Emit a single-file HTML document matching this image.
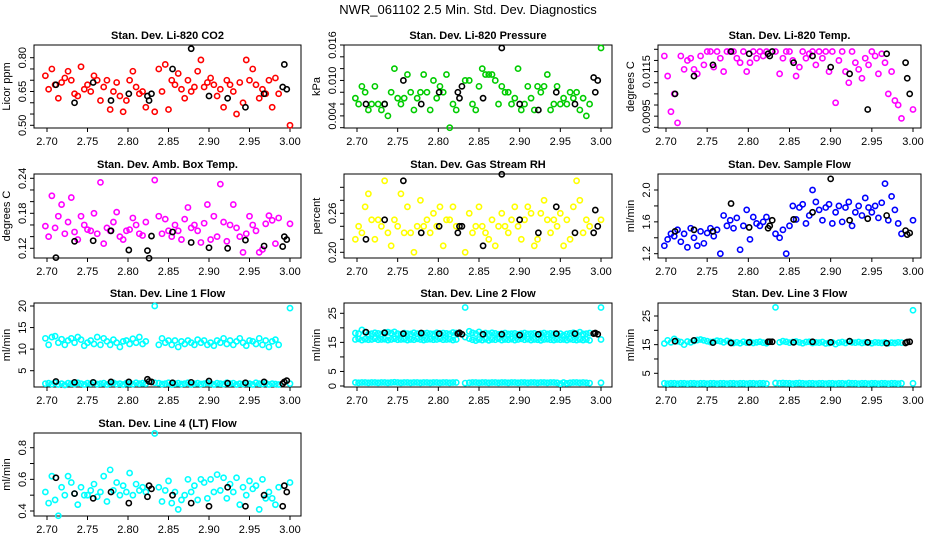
<!DOCTYPE html>
<html><head><meta charset="utf-8"><style>
body{margin:0;background:#fff}
svg{display:block;font-family:"Liberation Sans",sans-serif}
</style></head><body>
<svg id="chart" width="936" height="540" viewBox="0 0 936 540">
<text x="468" y="14" text-anchor="middle" font-size="13">NWR_061102  2.5 Min. Std. Dev. Diagnostics</text>
</svg>
<script>
const times=[2.698,2.702,2.706,2.710,2.714,2.718,2.722,2.726,2.730,2.734,2.738,2.742,2.746,2.750,2.754,2.758,2.762,2.766,2.770,2.774,2.778,2.782,2.786,2.790,2.794,2.798,2.802,2.806,2.810,2.814,2.818,2.822,2.833,2.838,2.842,2.846,2.850,2.854,2.858,2.862,2.866,2.870,2.874,2.878,2.882,2.886,2.890,2.894,2.898,2.902,2.906,2.910,2.914,2.918,2.922,2.926,2.930,2.934,2.938,2.942,2.946,2.950,2.954,2.958,2.962,2.966,2.970,2.974,2.978,2.982,2.986,3.000];
const blackTimes=[2.711,2.734,2.757,2.779,2.801,2.824,2.826,2.829,2.855,2.878,2.900,2.923,2.945,2.968,2.991,2.993,2.996];
const xTicks=[2.70,2.75,2.80,2.85,2.90,2.95,3.00];
const xTickLabels=["2.70","2.75","2.80","2.85","2.90","2.95","3.00"];

const co2Vals=[0.72,0.66,0.75,0.68,0.62,0.69,0.71,0.74,0.70,0.64,0.63,0.76,0.66,0.68,0.65,0.72,0.70,0.61,0.67,0.70,0.57,0.65,0.69,0.63,0.56,0.61,0.70,0.74,0.67,0.64,0.65,0.58,0.56,0.75,0.65,0.77,0.57,0.70,0.68,0.73,0.66,0.62,0.70,0.65,0.67,0.74,0.79,0.67,0.69,0.71,0.68,0.63,0.66,0.58,0.70,0.68,0.65,0.55,0.69,0.60,0.79,0.70,0.75,0.68,0.62,0.66,0.64,0.70,0.58,0.71,0.64,0.50];
const co2Black=[0.68,0.60,0.69,0.61,0.64,0.63,0.61,0.64,0.75,0.84,0.63,0.62,0.58,0.64,0.67,0.77,0.66];
const presVals=[0.007,0.006,0.009,0.008,0.005,0.006,0.009,0.006,0.005,0.006,0.004,0.008,0.012,0.007,0.006,0.007,0.011,0.008,0.005,0.007,0.008,0.011,0.008,0.005,0.010,0.007,0.009,0.008,0.011,0.002,0.006,0.005,0.010,0.010,0.006,0.005,0.009,0.012,0.011,0.011,0.011,0.010,0.006,0.009,0.008,0.008,0.006,0.007,0.012,0.005,0.006,0.009,0.007,0.005,0.009,0.008,0.009,0.011,0.005,0.006,0.009,0.006,0.007,0.006,0.008,0.007,0.008,0.005,0.007,0.004,0.006,0.0155];
const presBlack=[0.006,0.006,0.010,0.006,0.008,0.008,0.007,0.009,0.007,0.0155,0.006,0.005,0.008,0.006,0.0105,0.008,0.010];
const tempVals=[0.0122,0.0113,0.0097,0.0105,0.0092,0.0122,0.0116,0.0120,0.0121,0.0116,0.0114,0.0122,0.0118,0.0124,0.0124,0.0117,0.0124,0.0121,0.0115,0.0124,0.0124,0.0124,0.0121,0.0119,0.0124,0.0115,0.0119,0.0124,0.0121,0.0124,0.0122,0.0124,0.0124,0.0114,0.0121,0.0124,0.0124,0.0120,0.0113,0.0117,0.0124,0.0121,0.0123,0.0124,0.0118,0.0124,0.0121,0.0124,0.0115,0.0124,0.0101,0.0120,0.0124,0.0115,0.0110,0.0124,0.0119,0.0116,0.0112,0.0121,0.0118,0.0124,0.0122,0.0114,0.0123,0.0119,0.0105,0.0115,0.0102,0.0100,0.0094,0.0098];
const tempBlack=[0.0105,0.0113,0.0118,0.0124,0.0123,0.0123,0.0122,0.0124,0.0119,0.0122,0.0117,0.0114,0.0098,0.0123,0.0119,0.0112,0.0105];
const ambVals=[0.158,0.140,0.210,0.155,0.175,0.195,0.145,0.165,0.207,0.148,0.135,0.175,0.160,0.152,0.150,0.180,0.145,0.233,0.128,0.155,0.150,0.165,0.182,0.140,0.135,0.150,0.152,0.172,0.160,0.145,0.142,0.165,0.237,0.175,0.145,0.170,0.150,0.140,0.160,0.150,0.135,0.170,0.190,0.155,0.160,0.150,0.130,0.163,0.195,0.135,0.175,0.140,0.230,0.165,0.132,0.160,0.195,0.155,0.140,0.113,0.145,0.175,0.160,0.150,0.113,0.118,0.162,0.176,0.168,0.128,0.172,0.162];
const ambBlack=[0.104,0.132,0.133,0.150,0.117,0.116,0.103,0.141,0.148,0.130,0.121,0.120,0.134,0.124,0.123,0.140,0.135];
const rhVals=[0.22,0.24,0.23,0.27,0.29,0.25,0.22,0.25,0.24,0.31,0.23,0.21,0.25,0.24,0.29,0.23,0.27,0.23,0.20,0.24,0.28,0.24,0.25,0.23,0.26,0.24,0.27,0.21,0.25,0.25,0.27,0.24,0.20,0.26,0.23,0.24,0.27,0.24,0.23,0.22,0.25,0.21,0.24,0.26,0.24,0.23,0.25,0.27,0.24,0.22,0.25,0.27,0.26,0.21,0.22,0.26,0.28,0.25,0.23,0.25,0.24,0.26,0.21,0.25,0.22,0.27,0.31,0.28,0.23,0.25,0.24,0.25];
const rhBlack=[0.22,0.25,0.31,0.23,0.24,0.23,0.24,0.24,0.21,0.32,0.25,0.23,0.27,0.23,0.23,0.265,0.24];
const sflowVals=[1.30,1.38,1.45,1.42,1.50,1.35,1.45,1.28,1.52,1.40,1.30,1.48,1.33,1.46,1.52,1.42,1.50,1.20,1.68,1.55,1.62,1.52,1.65,1.25,1.55,1.75,1.38,1.66,1.58,1.55,1.60,1.66,1.45,1.40,1.50,1.20,1.55,1.80,1.63,1.78,1.82,1.58,1.68,2.00,1.85,1.75,1.62,1.78,1.82,1.58,1.72,1.80,1.60,1.78,1.85,1.55,1.72,1.80,1.68,1.90,1.78,1.72,1.80,1.65,1.84,2.08,1.62,1.92,1.75,1.58,1.45,1.62];
const sflowBlack=[1.48,1.50,1.48,1.83,1.53,1.52,1.55,1.62,1.63,1.72,2.14,1.62,1.64,1.68,1.49,1.44,1.46];
const line1High=[12.5,11.0,12.8,13.0,11.5,12.3,11.0,12.0,12.5,11.5,12.8,12.2,10.8,11.5,12.0,11.2,12.8,11.0,12.5,11.8,11.0,12.2,11.5,10.5,11.8,12.0,11.2,12.4,11.5,12.8,11.2,11.8,20.0,11.0,12.5,11.5,12.0,11.0,12.0,10.5,11.8,11.2,12.0,11.5,11.0,12.2,11.5,12.0,11.0,11.5,10.8,12.0,11.5,12.5,11.2,12.0,11.0,11.8,12.5,11.5,10.8,12.0,11.8,11.2,12.5,11.0,12.0,10.5,11.8,12.2,11.0,19.5];
const line1Low=[2.0,2.1,1.9,2.2,1.8,2.0,1.7,2.1,2.0,1.9,2.2,2.0,1.8,2.1,2.0,2.2,1.9,2.0,2.1,1.8,2.0,2.2,1.9,2.0,1.8,2.1,2.0,1.9,2.2,2.0,2.1,2.0,2.2,2.1,1.9,2.0,2.2,1.8,2.0,2.1,1.9,2.0,2.2,1.8,2.0,2.1,1.9,2.0,2.2,2.0,1.8,2.1,2.0,1.9,2.2,2.0,2.1,1.8,2.0,1.9,2.1,2.0,1.8,2.2,2.0,1.9,2.1,1.8,2.0,1.9,1.8,2.0];
const line1Black=[2.5,2.3,2.3,2.4,2.4,3.0,2.5,2.4,2.2,2.3,2.6,2.1,2.2,2.4,2.0,2.4,2.7];
const line2High=[18.2,18.0,19.3,18.5,17.8,18.0,18.3,18.1,17.9,18.4,18.5,18.2,18.6,18.0,17.8,18.2,18.0,17.9,18.3,18.0,17.8,18.1,18.2,18.0,17.9,18.3,18.0,18.2,18.1,17.9,18.4,18.2,27.0,18.8,18.3,18.0,18.6,17.9,18.2,18.0,18.3,18.1,17.8,18.0,18.2,17.9,18.0,18.1,17.8,18.0,18.2,17.9,18.0,18.1,17.8,18.0,18.2,17.9,18.1,18.0,17.8,18.0,17.5,17.9,18.1,18.3,18.0,18.5,17.9,18.0,18.2,27.0];
const line2Mid=[16.0,16.2,15.8,16.1,15.9,16.0,16.3,15.9,16.0,16.1,15.8,16.0,16.2,15.9,16.0,16.1,15.8,16.0,15.9,16.2,16.0,15.8,16.0,16.1,15.9,16.0,16.2,15.9,16.0,16.1,15.8,16.0,16.8,16.3,15.9,15.6,16.0,15.8,16.1,15.7,16.0,15.9,16.2,15.8,16.0,15.9,16.1,15.8,16.0,16.2,15.9,16.1,15.8,16.0,15.9,15.7,16.0,16.1,15.9,15.8,16.0,15.9,16.0,15.8,16.1,15.9,15.8,16.0,15.8,16.0,15.7,16.0];
const line2Low=[1.2,1.1,1.2,1.2,1.1,1.2,1.2,1.1,1.2,1.2,1.1,1.2,1.3,1.2,1.1,1.2,1.2,1.1,1.2,1.2,1.1,1.2,1.2,1.1,1.2,1.2,1.1,1.2,1.2,1.1,1.2,1.2,1.0,1.1,1.2,1.2,1.1,1.2,1.2,1.1,1.2,1.2,1.1,1.2,1.2,1.1,1.2,1.2,1.1,1.2,1.2,1.1,1.2,1.2,1.1,1.2,1.2,1.1,1.2,1.2,1.1,0.8,1.2,0.9,1.1,1.2,1.2,1.1,1.2,1.1,1.0,1.1];
const line2Black=[18.5,18.3,18.0,18.2,18.0,18.0,18.3,17.8,17.8,17.8,17.5,17.8,18.0,18.0,18.0,18.2,17.8];
const line3High=[15.4,16.5,15.8,17.0,16.2,15.9,15.0,16.1,15.8,16.3,16.6,16.8,16.5,16.2,15.9,16.0,16.4,16.2,15.8,16.3,15.9,15.6,15.8,15.5,16.0,15.7,15.9,15.6,15.8,16.0,15.7,15.5,28.0,15.8,16.2,16.0,15.7,15.9,16.1,15.8,15.5,15.9,16.0,15.6,15.8,15.7,15.9,15.4,15.6,15.8,15.2,15.7,15.9,15.6,16.0,15.8,15.7,15.9,15.6,15.8,15.7,15.5,15.8,15.7,15.6,15.8,15.5,15.7,15.6,15.8,15.7,27.0];
const line3Low=[1.5,1.4,1.5,1.5,1.4,1.5,1.5,1.4,1.5,1.5,1.4,1.5,1.5,1.4,1.5,1.5,1.4,1.5,1.5,1.4,1.5,1.5,1.4,1.5,1.5,1.4,1.5,1.5,1.4,1.5,1.5,1.4,1.6,1.5,1.6,1.5,1.5,1.4,1.5,1.6,1.5,1.4,1.5,1.5,1.4,1.5,1.5,1.4,1.5,1.5,1.4,1.5,1.5,1.4,1.6,1.5,1.5,1.4,1.5,1.5,1.4,1.5,1.5,1.4,1.5,1.5,1.4,1.5,1.5,1.4,1.5,1.5];
const line3Black=[16.2,16.5,15.7,15.6,15.8,16.0,16.0,16.0,15.8,16.0,15.8,16.2,15.8,15.5,15.6,15.9,16.0];
const line4Vals=[0.52,0.45,0.62,0.47,0.37,0.55,0.50,0.62,0.58,0.51,0.44,0.55,0.50,0.50,0.53,0.57,0.49,0.52,0.62,0.46,0.66,0.53,0.58,0.50,0.56,0.52,0.64,0.50,0.57,0.53,0.55,0.52,0.89,0.55,0.46,0.53,0.59,0.45,0.52,0.41,0.47,0.50,0.60,0.52,0.56,0.47,0.60,0.58,0.48,0.60,0.52,0.63,0.53,0.61,0.48,0.57,0.52,0.61,0.44,0.55,0.50,0.59,0.54,0.56,0.41,0.60,0.48,0.52,0.48,0.44,0.55,0.58];
const line4Black=[0.61,0.51,0.48,0.52,0.45,0.49,0.56,0.54,0.50,0.45,0.43,0.55,0.43,0.50,0.43,0.56,0.52];

const NS="http://www.w3.org/2000/svg";
const svg=document.getElementById('chart');
const cols=[{l:34,r:301,x0:47,x1:290},{l:344,r:612,x0:357,x1:601},{l:658,r:921,x0:666,x1:913}];
const rows=[{t:45,b:128},{t:174,b:258},{t:303,b:387},{t:433,b:516}];
function mk(tag,attrs,parent){const e=document.createElementNS(NS,tag);for(const k in attrs)e.setAttribute(k,attrs[k]);(parent||svg).appendChild(e);return e;}

const panels=[
 {key:'co2',title:'Stan. Dev. Li-820 CO2',ylab:'Licor ppm',c:0,r:0,color:'#ff0000',v0:0.50,p0:125.3,v1:0.80,p1:57.7,ticks:[0.50,0.55,0.60,0.65,0.70,0.75,0.80],labs:{0.50:'0.50',0.65:'0.65',0.80:'0.80'},series:[co2Vals],black:co2Black},
 {key:'pressure',title:'Stan. Dev. Li-820 Pressure',ylab:'kPa',c:1,r:0,color:'#00cc00',v0:0.002,p0:127.7,v1:0.016,p1:45,ticks:[0.002,0.004,0.006,0.008,0.010,0.012,0.014,0.016],labs:{0.004:'0.004',0.010:'0.010',0.016:'0.016'},series:[presVals],black:presBlack},
 {key:'li820-temp',title:'Stan. Dev. Li-820 Temp.',ylab:'degrees C',c:2,r:0,color:'#ff00ff',v0:0.0090,p0:127.3,v1:0.0125,p1:49.3,ticks:[0.0090,0.0095,0.0100,0.0105,0.0110,0.0115,0.0120,0.0125],labs:{0.0095:'0.0095',0.0115:'0.0115'},series:[tempVals],black:tempBlack},
 {key:'amb-box-temp',title:'Stan. Dev. Amb. Box Temp.',ylab:'degrees C',c:0,r:1,color:'#ff00ff',v0:0.12,p0:248.3,v1:0.24,p1:178.3,ticks:[0.12,0.14,0.16,0.18,0.20,0.22,0.24],labs:{0.12:'0.12',0.18:'0.18',0.24:'0.24'},series:[ambVals],black:ambBlack},
 {key:'gas-rh',title:'Stan. Dev. Gas Stream RH',ylab:'percent',c:1,r:1,color:'#ffff00',v0:0.20,p0:252.3,v1:0.26,p1:213.3,ticks:[0.20,0.22,0.24,0.26,0.28,0.30],labs:{0.20:'0.20',0.26:'0.26'},series:[rhVals],black:rhBlack},
 {key:'sample-flow',title:'Stan. Dev. Sample Flow',ylab:'ml/min',c:2,r:1,color:'#0000ff',v0:1.2,p0:253.7,v1:2.0,p1:190,ticks:[1.2,1.4,1.6,1.8,2.0],labs:{1.2:'1.2',1.6:'1.6',2.0:'2.0'},series:[sflowVals],black:sflowBlack},
 {key:'line1-flow',title:'Stan. Dev. Line 1 Flow',ylab:'ml/min',c:0,r:2,color:'#00ffff',v0:5,p0:370.7,v1:20,p1:306,ticks:[5,10,15,20],labs:{5:'5',10:'10',15:'15',20:'20'},series:[line1High,line1Low],black:line1Black},
 {key:'line2-flow',title:'Stan. Dev. Line 2 Flow',ylab:'ml/min',c:1,r:2,color:'#00ffff',v0:0,p0:386,v1:25,p1:313.3,ticks:[0,5,10,15,20,25],labs:{0:'0',5:'5',15:'15',25:'25'},series:[line2High,line2Mid,line2Low],black:line2Black},
 {key:'line3-flow',title:'Stan. Dev. Line 3 Flow',ylab:'ml/min',c:2,r:2,color:'#00ffff',v0:5,p0:373.3,v1:25,p1:316,ticks:[5,10,15,20,25],labs:{5:'5',15:'15',25:'25'},series:[line3High,line3Low],black:line3Black},
 {key:'line4-flow',title:'Stan. Dev. Line 4 (LT) Flow',ylab:'ml/min',c:0,r:3,color:'#00ffff',v0:0.4,p0:511,v1:0.8,p1:447.7,ticks:[0.4,0.5,0.6,0.7,0.8],labs:{0.4:'0.4',0.6:'0.6',0.8:'0.8'},series:[line4Vals],black:line4Black}
];

panels.forEach(p=>{
  const C=cols[p.c],R=rows[p.r];
  const xs=v=>C.x0+(v-2.70)/(3.00-2.70)*(C.x1-C.x0);
  const ys=v=>p.p0+(v-p.v0)/(p.v1-p.v0)*(p.p1-p.p0);
  const g=mk('g',{});
  
  
  const t=mk('text',{x:(C.l+C.r)/2,y:R.t-6,'text-anchor':'middle','font-size':'11','font-weight':'bold'},g);
  t.textContent=p.title;
  
  
  const box=mk('rect',{x:C.l,y:R.t,width:C.r-C.l,height:R.b-R.t,fill:'none',stroke:'#000','stroke-width':1},g);
  
  
  const xa=mk('g',{},g);
  
  
  xTicks.forEach((v,i)=>{
    const x=xs(v);
    mk('line',{x1:x,x2:x,y1:R.b,y2:R.b+4,stroke:'#000'},xa);
    const tl=mk('text',{x:x,y:R.b+17,'text-anchor':'middle','font-size':'11'},xa);
    tl.textContent=xTickLabels[i];
    
    
  });
  const ya=mk('g',{},g);
  
  
  p.ticks.forEach(v=>{
    const y=ys(v);
    mk('line',{x1:C.l-4,x2:C.l,y1:y,y2:y,stroke:'#000'},ya);
    const k=Object.keys(p.labs).find(kk=>Math.abs(parseFloat(kk)-v)<1e-9);
    if(k!==undefined){
      const lx=C.l-8;
      const tl=mk('text',{x:lx,y:y,'text-anchor':'middle','font-size':'11',transform:`rotate(-90 ${lx} ${y})`},ya);
      tl.textContent=p.labs[k];
      
      
    }
  });
  const yl=C.l-24,ym=(R.t+R.b)/2;
  const yt=mk('text',{x:yl,y:ym,'text-anchor':'middle','font-size':'11',transform:`rotate(-90 ${yl} ${ym})`},g);
  yt.textContent=p.ylab;
  
  
  p.series.forEach(arr=>{
    const n=Math.min(arr.length,times.length);
    for(let i=0;i<n;i++){
      const c=mk('circle',{cx:xs(times[i]),cy:ys(arr[i]),r:2.6,fill:'none',stroke:p.color,'stroke-width':1.6},g);
      
      
    }
  });
  const n=Math.min(p.black.length,blackTimes.length);
  for(let i=0;i<n;i++){
    const c=mk('circle',{cx:xs(blackTimes[i]),cy:ys(p.black[i]),r:2.6,fill:'none',stroke:'#000','stroke-width':1.6},g);
    
    
  }
});
</script>
</body></html>
